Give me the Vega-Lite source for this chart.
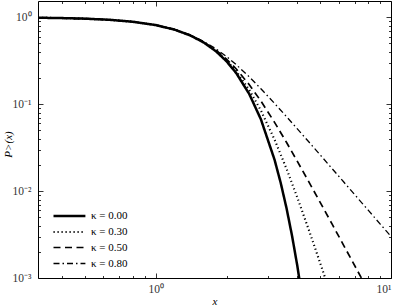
{
  "$schema": "https://vega.github.io/schema/vega-lite/v6.json",
  "autosize": {"type": "none"},
  "padding": {"left": 38, "top": 1, "right": 7, "bottom": 27},
  "width": 353,
  "height": 277,
  "config": {
    "view": {"stroke": "#000", "strokeWidth": 1},
    "font": "Liberation Serif",
    "axis": {"grid": false, "domain": false, "labelFont": "Liberation Serif", "labelFontSize": 11.5, "labelColor": "#333", "titleFont": "Liberation Serif", "titleFontSize": 11, "titleFontWeight": "normal", "titleFontStyle": "italic", "titleColor": "#000", "tickColor": "#000", "tickWidth": 0.8}
  },
  "data": {"values": [
    {"x": 0.3162, "y": 0.9885, "k": "κ = 0.00"}, {"x": 0.4, "y": 0.9794, "k": "κ = 0.00"}, {"x": 0.5, "y": 0.9642, "k": "κ = 0.00"}, {"x": 0.63, "y": 0.9372, "k": "κ = 0.00"}, {"x": 0.8, "y": 0.8888, "k": "κ = 0.00"}, {"x": 1.0, "y": 0.8138, "k": "κ = 0.00"}, {"x": 1.2, "y": 0.7226, "k": "κ = 0.00"}, {"x": 1.4, "y": 0.6202, "k": "κ = 0.00"}, {"x": 1.6, "y": 0.5132, "k": "κ = 0.00"}, {"x": 1.8, "y": 0.4084, "k": "κ = 0.00"}, {"x": 2.0, "y": 0.3118, "k": "κ = 0.00"}, {"x": 2.2, "y": 0.2279, "k": "κ = 0.00"}, {"x": 2.5, "y": 0.1306, "k": "κ = 0.00"}, {"x": 2.8, "y": 0.067, "k": "κ = 0.00"}, {"x": 3.2, "y": 0.02297, "k": "κ = 0.00"}, {"x": 3.4, "y": 0.01239, "k": "κ = 0.00"}, {"x": 3.6, "y": 0.006313, "k": "κ = 0.00"}, {"x": 3.8, "y": 0.003031, "k": "κ = 0.00"}, {"x": 4.0, "y": 0.001372, "k": "κ = 0.00"}, {"x": 4.2, "y": 0.000583, "k": "κ = 0.00"},
    {"x": 0.3162, "y": 0.9885, "k": "κ = 0.30"}, {"x": 0.4, "y": 0.9794, "k": "κ = 0.30"}, {"x": 0.5, "y": 0.9642, "k": "κ = 0.30"}, {"x": 0.63, "y": 0.9372, "k": "κ = 0.30"}, {"x": 0.8, "y": 0.8888, "k": "κ = 0.30"}, {"x": 1.0, "y": 0.814, "k": "κ = 0.30"}, {"x": 1.2, "y": 0.7229, "k": "κ = 0.30"}, {"x": 1.4, "y": 0.6212, "k": "κ = 0.30"}, {"x": 1.6, "y": 0.5154, "k": "κ = 0.30"}, {"x": 1.8, "y": 0.4127, "k": "κ = 0.30"}, {"x": 2.0, "y": 0.3189, "k": "κ = 0.30"}, {"x": 2.2, "y": 0.2383, "k": "κ = 0.30"}, {"x": 2.5, "y": 0.1456, "k": "κ = 0.30"}, {"x": 2.8, "y": 0.08456, "k": "κ = 0.30"}, {"x": 3.2, "y": 0.03919, "k": "κ = 0.30"}, {"x": 3.6, "y": 0.01798, "k": "κ = 0.30"}, {"x": 4.0, "y": 0.008405, "k": "κ = 0.30"}, {"x": 4.5, "y": 0.003427, "k": "κ = 0.30"}, {"x": 5.0, "y": 0.001487, "k": "κ = 0.30"}, {"x": 5.6, "y": 0.000595, "k": "κ = 0.30"},
    {"x": 0.3162, "y": 0.9885, "k": "κ = 0.50"}, {"x": 0.4, "y": 0.9794, "k": "κ = 0.50"}, {"x": 0.5, "y": 0.9642, "k": "κ = 0.50"}, {"x": 0.63, "y": 0.9372, "k": "κ = 0.50"}, {"x": 0.8, "y": 0.8888, "k": "κ = 0.50"}, {"x": 1.0, "y": 0.8141, "k": "κ = 0.50"}, {"x": 1.2, "y": 0.7236, "k": "κ = 0.50"}, {"x": 1.4, "y": 0.6229, "k": "κ = 0.50"}, {"x": 1.6, "y": 0.5193, "k": "κ = 0.50"}, {"x": 1.8, "y": 0.4198, "k": "κ = 0.50"}, {"x": 2.0, "y": 0.3303, "k": "κ = 0.50"}, {"x": 2.2, "y": 0.2543, "k": "κ = 0.50"}, {"x": 2.5, "y": 0.1673, "k": "κ = 0.50"}, {"x": 2.8, "y": 0.1088, "k": "κ = 0.50"}, {"x": 3.2, "y": 0.06181, "k": "κ = 0.50"}, {"x": 3.6, "y": 0.0362, "k": "κ = 0.50"}, {"x": 4.0, "y": 0.02201, "k": "κ = 0.50"}, {"x": 4.5, "y": 0.01245, "k": "κ = 0.50"}, {"x": 5.0, "y": 0.007429, "k": "κ = 0.50"}, {"x": 5.6, "y": 0.004243, "k": "κ = 0.50"}, {"x": 6.3, "y": 0.002363, "k": "κ = 0.50"}, {"x": 7.1, "y": 0.001303, "k": "κ = 0.50"}, {"x": 8.0, "y": 0.000718, "k": "κ = 0.50"},
    {"x": 0.3162, "y": 0.9885, "k": "κ = 0.80"}, {"x": 0.4, "y": 0.9794, "k": "κ = 0.80"}, {"x": 0.5, "y": 0.9643, "k": "κ = 0.80"}, {"x": 0.63, "y": 0.9372, "k": "κ = 0.80"}, {"x": 0.8, "y": 0.8889, "k": "κ = 0.80"}, {"x": 1.0, "y": 0.8146, "k": "κ = 0.80"}, {"x": 1.2, "y": 0.7252, "k": "κ = 0.80"}, {"x": 1.4, "y": 0.627, "k": "κ = 0.80"}, {"x": 1.6, "y": 0.5279, "k": "κ = 0.80"}, {"x": 1.8, "y": 0.4349, "k": "κ = 0.80"}, {"x": 2.0, "y": 0.3532, "k": "κ = 0.80"}, {"x": 2.2, "y": 0.2847, "k": "κ = 0.80"}, {"x": 2.5, "y": 0.206, "k": "κ = 0.80"}, {"x": 2.8, "y": 0.1507, "k": "κ = 0.80"}, {"x": 3.2, "y": 0.1022, "k": "κ = 0.80"}, {"x": 3.6, "y": 0.07177, "k": "κ = 0.80"}, {"x": 4.0, "y": 0.05202, "k": "κ = 0.80"}, {"x": 4.5, "y": 0.0362, "k": "κ = 0.80"}, {"x": 5.0, "y": 0.0261, "k": "κ = 0.80"}, {"x": 5.6, "y": 0.01835, "k": "κ = 0.80"}, {"x": 6.3, "y": 0.01271, "k": "κ = 0.80"}, {"x": 7.1, "y": 0.008754, "k": "κ = 0.80"}, {"x": 8.0, "y": 0.00603, "k": "κ = 0.80"}, {"x": 9.0, "y": 0.004174, "k": "κ = 0.80"}, {"x": 10.0, "y": 0.003004, "k": "κ = 0.80"}
  ]},
  "resolve": {"axis": {"x": "independent", "y": "independent"}},
  "layer": [
    {
      "mark": {"type": "line", "clip": true, "color": "#000"},
      "encoding": {
        "x": {"field": "x", "type": "quantitative", "scale": {"type": "log", "domain": [0.3162, 10], "nice": false},
          "axis": {"orient": "bottom", "values": [1, 10], "ticks": false, "labelPadding": 5, "labelExpr": "datum.value >= 10 ? '10¹' : '10⁰'", "title": "x", "titleY": 26, "titleBaseline": "alphabetic"}},
        "y": {"field": "y", "type": "quantitative", "scale": {"type": "log", "domain": [0.001, 1.54], "nice": false},
          "axis": {"orient": "left", "values": [0.001, 0.01, 0.1, 1], "ticks": false, "labelPadding": 7, "labelExpr": "datum.value >= 1 ? '10⁰' : datum.value >= 0.1 ? '10⁻¹' : datum.value >= 0.01 ? '10⁻²' : '10⁻³'", "title": "P>(x)", "titleX": -30, "titleY": 143, "titleBaseline": "middle"}},
        "strokeDash": {"field": "k", "type": "nominal", "scale": {"domain": ["κ = 0.00", "κ = 0.30", "κ = 0.50", "κ = 0.80"], "range": [[1, 0], [1.2, 2.8], [7, 4.5], [6, 3, 1.5, 3]]},
          "legend": {"title": null, "orient": "none", "legendX": 25, "legendY": 208, "symbolType": "M-3,0H2.8", "symbolSize": 121, "symbolStrokeColor": "#000", "symbolStrokeWidth": 2.2, "labelFont": "Liberation Serif", "labelFontSize": 11, "labelColor": "#000", "padding": 0, "rowPadding": 4, "labelOffset": 14}},
        "strokeWidth": {"field": "k", "type": "nominal", "scale": {"domain": ["κ = 0.00", "κ = 0.30", "κ = 0.50", "κ = 0.80"], "range": [2.5, 1.3, 2.6, 2.3]}, "legend": null}
      }
    },
    {
      "mark": {"type": "line", "opacity": 0},
      "encoding": {
        "x": {"field": "x", "type": "quantitative", "axis": {"orient": "bottom", "values": [1, 10], "labels": false, "tickSize": -5, "title": null}},
        "y": {"field": "y", "type": "quantitative", "axis": {"orient": "left", "values": [0.001, 0.01, 0.1, 1], "labels": false, "tickSize": -5, "title": null}},
        "detail": {"field": "k"}
      }
    },
    {
      "mark": {"type": "line", "opacity": 0},
      "encoding": {
        "x": {"field": "x", "type": "quantitative", "axis": {"orient": "bottom", "values": [0.4, 0.5, 0.6, 0.7, 0.8, 0.9, 2, 3, 4, 5, 6, 7, 8, 9], "labels": false, "tickSize": -2.5, "title": null}},
        "y": {"field": "y", "type": "quantitative", "axis": {"orient": "left", "values": [0.002, 0.003, 0.004, 0.005, 0.006, 0.007, 0.008, 0.009, 0.02, 0.03, 0.04, 0.05, 0.06, 0.07, 0.08, 0.09, 0.2, 0.3, 0.4, 0.5, 0.6, 0.7, 0.8, 0.9], "labels": false, "tickSize": -2.5, "title": null}},
        "detail": {"field": "k"}
      }
    },
    {
      "mark": {"type": "line", "opacity": 0},
      "encoding": {
        "x": {"field": "x", "type": "quantitative", "axis": {"orient": "top", "values": [1, 10], "labels": false, "tickSize": -5, "title": null}},
        "y": {"field": "y", "type": "quantitative", "axis": {"orient": "right", "values": [0.001, 0.01, 0.1, 1], "labels": false, "tickSize": -5, "title": null}},
        "detail": {"field": "k"}
      }
    },
    {
      "mark": {"type": "line", "opacity": 0},
      "encoding": {
        "x": {"field": "x", "type": "quantitative", "axis": {"orient": "top", "values": [0.4, 0.5, 0.6, 0.7, 0.8, 0.9, 2, 3, 4, 5, 6, 7, 8, 9], "labels": false, "tickSize": -2.5, "title": null}},
        "y": {"field": "y", "type": "quantitative", "axis": {"orient": "right", "values": [0.002, 0.003, 0.004, 0.005, 0.006, 0.007, 0.008, 0.009, 0.02, 0.03, 0.04, 0.05, 0.06, 0.07, 0.08, 0.09, 0.2, 0.3, 0.4, 0.5, 0.6, 0.7, 0.8, 0.9], "labels": false, "tickSize": -2.5, "title": null}},
        "detail": {"field": "k"}
      }
    }
  ]
}
